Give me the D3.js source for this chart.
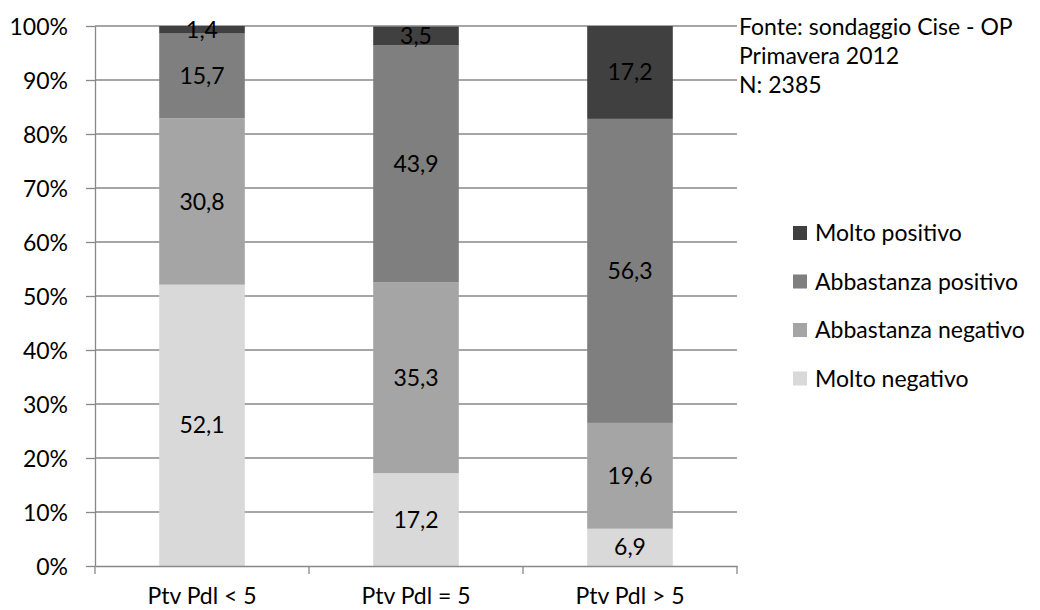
<!DOCTYPE html>
<html>
<head>
<meta charset="utf-8">
<script src="https://cdn.jsdelivr.net/npm/d3@7"></script>
<style>
  body { margin: 0; background: #fff; }
  svg { display: block; }
  text { font-family: Lato, "Open Sans", sans-serif; fill: #000; }
</style>
</head>
<body>
<svg id="chart" width="1040" height="610"></svg>
<script>
const categories = ["Ptv Pdl < 5", "Ptv Pdl = 5", "Ptv Pdl > 5"];
const seriesNames = ["Molto negativo", "Abbastanza negativo", "Abbastanza positivo", "Molto positivo"];
const moltoNegativo = [52.1, 17.2, 6.9];
const abbastanzaNegativo = [30.8, 35.3, 19.6];
const abbastanzaPositivo = [15.7, 43.9, 56.3];
const moltoPositivo = [1.4, 3.5, 17.2];
const yTicks = [0, 10, 20, 30, 40, 50, 60, 70, 80, 90, 100];
const sourceLines = ["Fonte: sondaggio Cise - OP", "Primavera 2012", "N: 2385"];
const colors = ["#d9d9d9", "#a5a5a5", "#7f7f7f", "#404040"];

const seriesValues = [moltoNegativo, abbastanzaNegativo, abbastanzaPositivo, moltoPositivo];
const rows = categories.map((c, i) => {
  const r = { cat: c };
  seriesNames.forEach((s, j) => r[s] = seriesValues[j][i]);
  return r;
});

const svg = d3.select("#chart");
const pLeft = 95, pRight = 737, pTop = 26, pBottom = 566;
const fs = 23;

const x = d3.scaleBand().domain(categories).range([pLeft, pRight]).paddingInner(0.6).paddingOuter(0.3);
const xAxisScale = d3.scaleBand().domain(categories).range([pLeft, pRight]);
const y = d3.scaleLinear().domain([0, 100]).range([pBottom, pTop]);

// gridlines
svg.append("g").selectAll("line").data(yTicks.filter(t => t > 0)).join("line")
  .attr("x1", pLeft).attr("x2", pRight)
  .attr("y1", d => y(d)).attr("y2", d => y(d))
  .attr("stroke", "#888").attr("stroke-width", 1.3);

// stacked bars
const stack = d3.stack().keys(seriesNames)(rows);
const g = svg.append("g");
stack.forEach((layer, li) => {
  g.append("g").selectAll("rect").data(layer).join("rect")
    .attr("x", d => x(d.data.cat))
    .attr("width", x.bandwidth())
    .attr("y", d => y(d[1]))
    .attr("height", d => y(d[0]) - y(d[1]))
    .attr("fill", colors[li]);
});
stack.forEach((layer, li) => {
  g.append("g").selectAll("text").data(layer).join("text")
    .attr("x", d => x(d.data.cat) + x.bandwidth() / 2)
    .attr("y", d => (y(d[0]) + y(d[1])) / 2)
    .attr("dy", "0.35em")
    .attr("text-anchor", "middle")
    .attr("font-size", fs)
    .text(d => d3.format(".1f")(d[1] - d[0]).replace(".", ","));
});

// y axis
const yAxis = svg.append("g").attr("transform", `translate(${pLeft},0)`)
  .call(d3.axisLeft(y).tickValues(yTicks).tickSize(9).tickSizeOuter(0).tickFormat(d => d + "%"));
yAxis.select(".domain").attr("stroke", "#888").attr("stroke-width", 1.3);
yAxis.selectAll(".tick line").attr("stroke", "#888").attr("stroke-width", 1.3);
yAxis.selectAll(".tick text").attr("font-size", fs).attr("font-family", "Lato, sans-serif")
  .attr("x", -27).attr("dy", "0.35em").attr("fill", "#000");

// x axis
const xAxis = svg.append("g").attr("transform", `translate(0,${pBottom})`)
  .call(d3.axisBottom(xAxisScale).tickSize(0).tickSizeOuter(0));
xAxis.select(".domain").attr("stroke", "#888").attr("stroke-width", 1.3);
xAxis.selectAll(".tick text").attr("font-size", fs).attr("font-family", "Lato, sans-serif")
  .attr("y", 38).attr("dy", "0").attr("fill", "#000");
// category boundary ticks
const bounds = categories.map(c => xAxisScale(c)).concat([pRight]);
svg.append("g").selectAll("line").data(bounds).join("line")
  .attr("x1", d => d).attr("x2", d => d)
  .attr("y1", pBottom).attr("y2", pBottom + 8)
  .attr("stroke", "#888").attr("stroke-width", 1.3);

// source note
svg.append("g").selectAll("text").data(sourceLines).join("text")
  .attr("x", 739).attr("y", (d, i) => 35 + i * 29)
  .attr("font-size", fs).text(d => d);

// legend
const legendItems = seriesNames.map((s, i) => ({ name: s, color: colors[i] })).reverse();
const lg = svg.append("g").selectAll("g").data(legendItems).join("g")
  .attr("transform", (d, i) => `translate(793,${233 + i * 48.5})`);
lg.append("rect").attr("x", 0).attr("y", -7).attr("width", 14).attr("height", 14).attr("fill", d => d.color);
lg.append("text").attr("x", 22).attr("y", 0).attr("dy", "0.35em").attr("font-size", fs).text(d => d.name);
</script>
</body>
</html>
